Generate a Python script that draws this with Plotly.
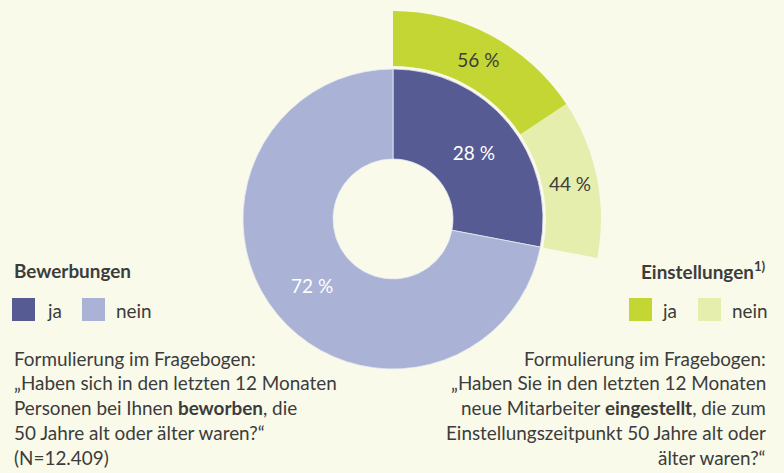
import plotly.graph_objects as go

W, H = 784, 473

# ---- data ----
bew_labels = ["ja", "nein"]
bew_values = [28, 72]
ein_labels = ["ja", "nein"]
ein_values = [56, 44]

bew_title = "Bewerbungen"
ein_title = "Einstellungen<sup>1)</sup>"

left_lines = [
    "Formulierung im Fragebogen:",
    "„Haben sich in den letzten 12 Monaten",
    "Personen bei Ihnen <b>beworben</b>, die",
    "50 Jahre alt oder älter waren?“",
    "(N=12.409)",
]
right_lines = [
    "Formulierung im Fragebogen:",
    "„Haben Sie in den letzten 12 Monaten",
    "neue Mitarbeiter <b>eingestellt</b>, die zum",
    "Einstellungszeitpunkt 50 Jahre alt oder",
    "älter waren?“",
]

# ---- styles ----
BG = "#f9faea"
bew_colors = ["#565c93", "#aab3d6"]
ein_colors = ["#c4d633", "#e5eeac"]
TXT = "#3c3c3c"
FONT = "Lato"
FS = 18.9


def px_x(x):
    return x / W


def px_y(y):
    return 1 - y / H


cx, cy = 393, 219
r_in, r_hole = 150, 60
r_out, r_out_hole = 208, 153

fig = go.Figure()

fig.add_trace(go.Pie(
    labels=bew_labels, values=bew_values,
    text=[f"{v} %" for v in bew_values], textinfo="text",
    textposition="inside", insidetextorientation="horizontal",
    textfont=dict(color="white", size=19, family=FONT),
    marker=dict(colors=bew_colors, line=dict(color="#e8eaf2", width=0.8)),
    hole=r_hole / r_in, sort=False, direction="clockwise", rotation=0,
    domain=dict(x=[px_x(cx - r_in), px_x(cx + r_in)],
                y=[px_y(cy + r_in), px_y(cy - r_in)]),
    showlegend=False, hoverinfo="skip",
))

share = bew_values[0] / sum(bew_values)
outer_vals = [v * share for v in ein_values] + [bew_values[1]]
fig.add_trace(go.Pie(
    labels=ein_labels + ["rest"], values=outer_vals,
    text=[f"{v} %" for v in ein_values] + [" "], textinfo="text",
    textposition="inside", insidetextorientation="horizontal",
    textfont=dict(color=TXT, size=19, family=FONT),
    marker=dict(colors=ein_colors + ["rgba(0,0,0,0)"], line=dict(width=0)),
    hole=r_out_hole / r_out, sort=False, direction="clockwise", rotation=0,
    domain=dict(x=[px_x(cx - r_out), px_x(cx + r_out)],
                y=[px_y(cy + r_out), px_y(cy - r_out)]),
    showlegend=False, hoverinfo="skip",
))

annotations = []
shapes = []


def add_text(text, x, y, anchor, size=FS, bold=False):
    annotations.append(dict(
        text=(f"<b>{text}</b>" if bold else text),
        x=px_x(x), y=px_y(y), xref="paper", yref="paper",
        xanchor=anchor, yanchor="middle", showarrow=False,
        font=dict(size=size, color=TXT, family=FONT),
    ))


def add_square(x0, y0, color, s=23):
    shapes.append(dict(type="rect", xref="paper", yref="paper",
                       x0=px_x(x0), x1=px_x(x0 + s), y0=px_y(y0 + s), y1=px_y(y0),
                       fillcolor=color, line=dict(width=0)))


# left legend
add_text(bew_title, 12, 270, "left", bold=True)
add_square(12, 298, bew_colors[0])
add_text(bew_labels[0], 45, 310, "left")
add_square(82, 298, bew_colors[1])
add_text(bew_labels[1], 114, 310, "left")

# right legend
add_text(ein_title, 768, 270, "right", bold=True)
add_square(629, 298, ein_colors[0])
add_text(ein_labels[0], 660, 310, "left")
add_square(698, 298, ein_colors[1])
add_text(ein_labels[1], 730, 310, "left")

for i, line in enumerate(left_lines):
    add_text(line, 12, 358 + i * 24.8, "left")
for i, line in enumerate(right_lines):
    add_text(line, 768, 358 + i * 24.8, "right")

fig.update_layout(
    width=W, height=H, margin=dict(l=0, r=0, t=0, b=0),
    paper_bgcolor=BG, plot_bgcolor=BG,
    annotations=annotations, shapes=shapes,
    font=dict(family=FONT, color=TXT),
)

fig.write_html("out.html")
